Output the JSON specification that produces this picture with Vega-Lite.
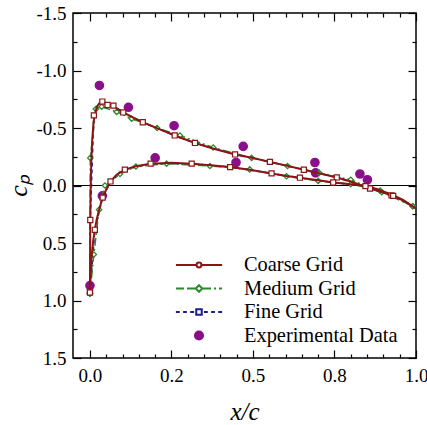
{
  "$schema": "https://vega.github.io/schema/vega-lite/v6.json",
  "width": 343,
  "height": 345,
  "autosize": {"type": "none"},
  "padding": {"left": 73, "top": 13, "right": 11, "bottom": 67},
  "background": "white",
  "config": {
    "view": {"stroke": "black", "strokeWidth": 1.5},
    "font": "Liberation Serif",
    "axis": {"grid": false, "domain": false, "tickColor": "black", "tickWidth": 1.2, "labelColor": "black", "titleColor": "black", "labelFont": "Liberation Serif", "labelFontSize": 19, "titleFont": "Liberation Serif", "titleFontWeight": "normal", "titleFontStyle": "italic", "labelFlush": false, "labelOverlap": false, "labelBound": false}
  },
  "datasets": {
    "zero": [{"cp": 0}],
    "coarse": [
      {"surface": "upper", "x": 0, "cp": 0.92}, {"surface": "upper", "x": 0.0005, "cp": 0.62}, {"surface": "upper", "x": 0.001, "cp": 0.30}, {"surface": "upper", "x": 0.002, "cp": 0.05}, {"surface": "upper", "x": 0.004, "cp": -0.2}, {"surface": "upper", "x": 0.007, "cp": -0.4}, {"surface": "upper", "x": 0.011, "cp": -0.55}, {"surface": "upper", "x": 0.016, "cp": -0.63}, {"surface": "upper", "x": 0.022, "cp": -0.69}, {"surface": "upper", "x": 0.03, "cp": -0.72}, {"surface": "upper", "x": 0.038, "cp": -0.73}, {"surface": "upper", "x": 0.046, "cp": -0.72}, {"surface": "upper", "x": 0.054, "cp": -0.705}, {"surface": "upper", "x": 0.072, "cp": -0.69}, {"surface": "upper", "x": 0.085, "cp": -0.665}, {"surface": "upper", "x": 0.102, "cp": -0.635}, {"surface": "upper", "x": 0.13, "cp": -0.595}, {"surface": "upper", "x": 0.162, "cp": -0.55}, {"surface": "upper", "x": 0.2, "cp": -0.505}, {"surface": "upper", "x": 0.26, "cp": -0.435}, {"surface": "upper", "x": 0.322, "cp": -0.37}, {"surface": "upper", "x": 0.38, "cp": -0.32}, {"surface": "upper", "x": 0.445, "cp": -0.27}, {"surface": "upper", "x": 0.5, "cp": -0.24}, {"surface": "upper", "x": 0.552, "cp": -0.205}, {"surface": "upper", "x": 0.6, "cp": -0.175}, {"surface": "upper", "x": 0.656, "cp": -0.137}, {"surface": "upper", "x": 0.7, "cp": -0.108}, {"surface": "upper", "x": 0.757, "cp": -0.07}, {"surface": "upper", "x": 0.8, "cp": -0.035}, {"surface": "upper", "x": 0.859, "cp": 0.026}, {"surface": "upper", "x": 0.9, "cp": 0.062}, {"surface": "upper", "x": 0.925, "cp": 0.085}, {"surface": "upper", "x": 0.96, "cp": 0.13}, {"surface": "upper", "x": 1.0, "cp": 0.2},
      {"surface": "lower", "x": 0, "cp": 0.92}, {"surface": "lower", "x": 0.002, "cp": 0.78}, {"surface": "lower", "x": 0.005, "cp": 0.62}, {"surface": "lower", "x": 0.01, "cp": 0.48}, {"surface": "lower", "x": 0.015, "cp": 0.385}, {"surface": "lower", "x": 0.021, "cp": 0.29}, {"surface": "lower", "x": 0.028, "cp": 0.21}, {"surface": "lower", "x": 0.039, "cp": 0.105}, {"surface": "lower", "x": 0.05, "cp": 0.035}, {"surface": "lower", "x": 0.063, "cp": -0.035}, {"surface": "lower", "x": 0.08, "cp": -0.09}, {"surface": "lower", "x": 0.107, "cp": -0.138}, {"surface": "lower", "x": 0.14, "cp": -0.168}, {"surface": "lower", "x": 0.186, "cp": -0.19}, {"surface": "lower", "x": 0.25, "cp": -0.197}, {"surface": "lower", "x": 0.312, "cp": -0.19}, {"surface": "lower", "x": 0.37, "cp": -0.177}, {"surface": "lower", "x": 0.43, "cp": -0.16}, {"surface": "lower", "x": 0.49, "cp": -0.137}, {"surface": "lower", "x": 0.557, "cp": -0.105}, {"surface": "lower", "x": 0.603, "cp": -0.083}, {"surface": "lower", "x": 0.644, "cp": -0.068}, {"surface": "lower", "x": 0.7, "cp": -0.045}, {"surface": "lower", "x": 0.746, "cp": -0.026}, {"surface": "lower", "x": 0.8, "cp": -0.01}, {"surface": "lower", "x": 0.845, "cp": 0.005}, {"surface": "lower", "x": 0.88, "cp": 0.03}, {"surface": "lower", "x": 0.93, "cp": 0.085}, {"surface": "lower", "x": 0.96, "cp": 0.125}, {"surface": "lower", "x": 1.0, "cp": 0.2}
    ],
    "fine": [
      {"surface": "upper", "x": 0, "cp": 0.93}, {"surface": "upper", "x": 0.001, "cp": 0.30}, {"surface": "upper", "x": 0.012, "cp": -0.61}, {"surface": "upper", "x": 0.038, "cp": -0.73}, {"surface": "upper", "x": 0.054, "cp": -0.70}, {"surface": "upper", "x": 0.072, "cp": -0.695}, {"surface": "upper", "x": 0.102, "cp": -0.635}, {"surface": "upper", "x": 0.162, "cp": -0.55}, {"surface": "upper", "x": 0.26, "cp": -0.435}, {"surface": "upper", "x": 0.322, "cp": -0.37}, {"surface": "upper", "x": 0.445, "cp": -0.27}, {"surface": "upper", "x": 0.552, "cp": -0.205}, {"surface": "upper", "x": 0.656, "cp": -0.137}, {"surface": "upper", "x": 0.757, "cp": -0.07}, {"surface": "upper", "x": 0.859, "cp": 0.026}, {"surface": "upper", "x": 0.925, "cp": 0.085},
      {"surface": "lower", "x": 0, "cp": 0.93}, {"surface": "lower", "x": 0.015, "cp": 0.385}, {"surface": "lower", "x": 0.039, "cp": 0.105}, {"surface": "lower", "x": 0.063, "cp": -0.035}, {"surface": "lower", "x": 0.107, "cp": -0.138}, {"surface": "lower", "x": 0.186, "cp": -0.19}, {"surface": "lower", "x": 0.312, "cp": -0.19}, {"surface": "lower", "x": 0.43, "cp": -0.16}, {"surface": "lower", "x": 0.557, "cp": -0.105}, {"surface": "lower", "x": 0.644, "cp": -0.068}, {"surface": "lower", "x": 0.746, "cp": -0.026}, {"surface": "lower", "x": 0.845, "cp": 0.005}, {"surface": "lower", "x": 0.93, "cp": 0.09}
    ],
    "medium": [
      {"surface": "upper", "x": 0, "cp": 0.94}, {"surface": "upper", "x": 0.001, "cp": -0.24}, {"surface": "upper", "x": 0.018, "cp": -0.665}, {"surface": "upper", "x": 0.036, "cp": -0.685}, {"surface": "upper", "x": 0.082, "cp": -0.64}, {"surface": "upper", "x": 0.128, "cp": -0.58}, {"surface": "upper", "x": 0.206, "cp": -0.50}, {"surface": "upper", "x": 0.276, "cp": -0.435}, {"surface": "upper", "x": 0.378, "cp": -0.33}, {"surface": "upper", "x": 0.496, "cp": -0.24}, {"surface": "upper", "x": 0.606, "cp": -0.17}, {"surface": "upper", "x": 0.703, "cp": -0.11}, {"surface": "upper", "x": 0.8, "cp": -0.05}, {"surface": "upper", "x": 0.895, "cp": 0.058}, {"surface": "upper", "x": 0.99, "cp": 0.18},
      {"surface": "lower", "x": 0, "cp": 0.94}, {"surface": "lower", "x": 0.012, "cp": 0.60}, {"surface": "lower", "x": 0.028, "cp": 0.21}, {"surface": "lower", "x": 0.046, "cp": 0.0}, {"surface": "lower", "x": 0.092, "cp": -0.10}, {"surface": "lower", "x": 0.141, "cp": -0.165}, {"surface": "lower", "x": 0.235, "cp": -0.19}, {"surface": "lower", "x": 0.368, "cp": -0.17}, {"surface": "lower", "x": 0.49, "cp": -0.14}, {"surface": "lower", "x": 0.603, "cp": -0.08}, {"surface": "lower", "x": 0.7, "cp": -0.04}, {"surface": "lower", "x": 0.8, "cp": -0.012}, {"surface": "lower", "x": 0.89, "cp": 0.045}, {"surface": "lower", "x": 0.99, "cp": 0.18}
    ],
    "exp": [
      {"series": "Experimental Data", "x": 0.0, "cp": 0.87}, {"series": "Experimental Data", "x": 0.038, "cp": 0.09}, {"series": "Experimental Data", "x": 0.029, "cp": -0.87}, {"series": "Experimental Data", "x": 0.118, "cp": -0.68}, {"series": "Experimental Data", "x": 0.2, "cp": -0.24}, {"series": "Experimental Data", "x": 0.258, "cp": -0.52}, {"series": "Experimental Data", "x": 0.448, "cp": -0.2}, {"series": "Experimental Data", "x": 0.47, "cp": -0.34}, {"series": "Experimental Data", "x": 0.69, "cp": -0.2}, {"series": "Experimental Data", "x": 0.692, "cp": -0.11}, {"series": "Experimental Data", "x": 0.828, "cp": -0.1}, {"series": "Experimental Data", "x": 0.851, "cp": -0.05}
    ]
  },
  "resolve": {"axis": {"x": "independent", "y": "independent"}},
  "layer": [
    {
      "data": {"name": "zero"},
      "mark": {"type": "rule", "color": "black", "strokeWidth": 1},
      "encoding": {
        "y": {"field": "cp", "type": "quantitative", "scale": {"domain": [-1.5, 1.5], "reverse": true, "nice": false, "zero": false}, "axis": null}
      }
    },
    {
      "data": {"name": "exp"},
      "mark": {"type": "point", "size": 484, "strokeWidth": 1.5, "opacity": 1},
      "encoding": {
        "x": {"field": "x", "type": "quantitative", "scale": {"domain": [-0.052, 1.0], "nice": false, "zero": false},
          "axis": {"orient": "bottom", "values": [0, 0.25, 0.5, 0.75, 1], "tickSize": -8, "labelPadding": 16, "labelExpr": "abs(datum.value-0.25)<1e-6 ? '0.2' : abs(datum.value-0.75)<1e-6 ? '0.8' : format(datum.value,'.1f')", "title": "x/c", "titleFontSize": 25, "titlePadding": 14}},
        "y": {"field": "cp", "type": "quantitative", "scale": {"domain": [-1.5, 1.5], "reverse": true, "nice": false, "zero": false},
          "axis": {"orient": "left", "values": [-1.5, -1, -0.5, 0, 0.5, 1, 1.5], "tickSize": -8, "labelPadding": 15, "labelExpr": "replace(format(datum.value,'.1f'),'\u2212','-')", "title": "c\u209a", "titleFontSize": 26, "titlePadding": 4}},
        "shape": {"field": "series", "type": "nominal", "title": null,
          "scale": {"domain": ["Coarse Grid", "Medium Grid", "Fine Grid", "Experimental Data"],
            "range": [
              "M-2.1,0H-0.22M0.22,0H2.1M-0.22,0A0.22,0.22,0,1,0,0.22,0A0.22,0.22,0,1,0,-0.22,0Z",
              "M-2.09,0H-1.36M-1.09,0H-0.3M0.3,0H1.09M1.36,0H1.55M1.82,0H2.09M0,-0.3L0.3,0L0,0.3L-0.3,0Z",
              "M-2.1,0H-1.75M-1.45,0H-1.1M-0.8,0H-0.45M0.45,0H0.8M1.1,0H1.45M1.75,0H2.1M-0.25,-0.25H0.25V0.25H-0.25Z",
              "M-0.37,0A0.37,0.37,0,1,0,0.37,0A0.37,0.37,0,1,0,-0.37,0Z"
            ]},
          "legend": {"orient": "none", "legendX": 114, "legendY": 240, "labelFont": "Liberation Serif", "labelFontSize": 20.4, "labelColor": "black", "symbolSize": 484, "symbolStrokeWidth": 2, "labelOffset": 33, "rowPadding": 0.5, "padding": 0, "labelLimit": 400, "symbolOpacity": 1}},
        "fill": {"field": "series", "type": "nominal", "title": null,
          "scale": {"domain": ["Coarse Grid", "Medium Grid", "Fine Grid", "Experimental Data"], "range": ["white", "white", "white", "#8a0f8a"]}},
        "stroke": {"field": "series", "type": "nominal", "title": null,
          "scale": {"domain": ["Coarse Grid", "Medium Grid", "Fine Grid", "Experimental Data"], "range": ["#8b1414", "#2a8a2a", "#1c1c8c", "#8a0f8a"]}}
      }
    },
    {
      "data": {"name": "fine"},
      "mark": {"type": "line", "color": "#1c1c8c", "strokeWidth": 1.5, "strokeDash": [4, 3]},
      "encoding": {
        "x": {"field": "x", "type": "quantitative", "axis": {"orient": "bottom", "values": [0.05, 0.1, 0.15, 0.2, 0.3, 0.35, 0.4, 0.45, 0.55, 0.6, 0.65, 0.7, 0.8, 0.85, 0.9, 0.95], "tickSize": -4, "labels": false, "title": null}},
        "y": {"field": "cp", "type": "quantitative", "axis": {"orient": "left", "values": [-1.25, -0.75, -0.25, 0.25, 0.75, 1.25], "tickSize": -4, "labels": false, "title": null}},
        "detail": {"field": "surface"}
      }
    },
    {
      "data": {"name": "medium"},
      "mark": {"type": "line", "color": "#2a8a2a", "strokeWidth": 1.5, "strokeDash": [8, 3, 2, 3]},
      "encoding": {
        "x": {"field": "x", "type": "quantitative", "axis": {"orient": "top", "values": [0, 0.25, 0.5, 0.75, 1], "tickSize": -8, "labels": false, "title": null}},
        "y": {"field": "cp", "type": "quantitative", "axis": {"orient": "right", "values": [-1.5, -1, -0.5, 0, 0.5, 1, 1.5], "tickSize": -8, "labels": false, "title": null}},
        "detail": {"field": "surface"}
      }
    },
    {
      "data": {"name": "medium"},
      "mark": {"type": "point", "shape": "diamond", "size": 28, "filled": false, "fill": "white", "stroke": "#2a8a2a", "strokeWidth": 1.3, "opacity": 1},
      "encoding": {
        "x": {"field": "x", "type": "quantitative", "axis": {"orient": "top", "values": [0.05, 0.1, 0.15, 0.2, 0.3, 0.35, 0.4, 0.45, 0.55, 0.6, 0.65, 0.7, 0.8, 0.85, 0.9, 0.95], "tickSize": -4, "labels": false, "title": null}},
        "y": {"field": "cp", "type": "quantitative", "axis": {"orient": "right", "values": [-1.25, -0.75, -0.25, 0.25, 0.75, 1.25], "tickSize": -4, "labels": false, "title": null}}
      }
    },
    {
      "data": {"name": "coarse"},
      "mark": {"type": "line", "color": "#8b1414", "strokeWidth": 2},
      "encoding": {
        "x": {"field": "x", "type": "quantitative", "axis": null},
        "y": {"field": "cp", "type": "quantitative", "axis": null},
        "detail": {"field": "surface"}
      }
    },
    {
      "data": {"name": "fine"},
      "mark": {"type": "point", "shape": "square", "size": 26, "filled": false, "fill": "white", "stroke": "#8b1414", "strokeWidth": 1.2, "opacity": 1},
      "encoding": {
        "x": {"field": "x", "type": "quantitative", "axis": null},
        "y": {"field": "cp", "type": "quantitative", "axis": null}
      }
    }
  ]
}
